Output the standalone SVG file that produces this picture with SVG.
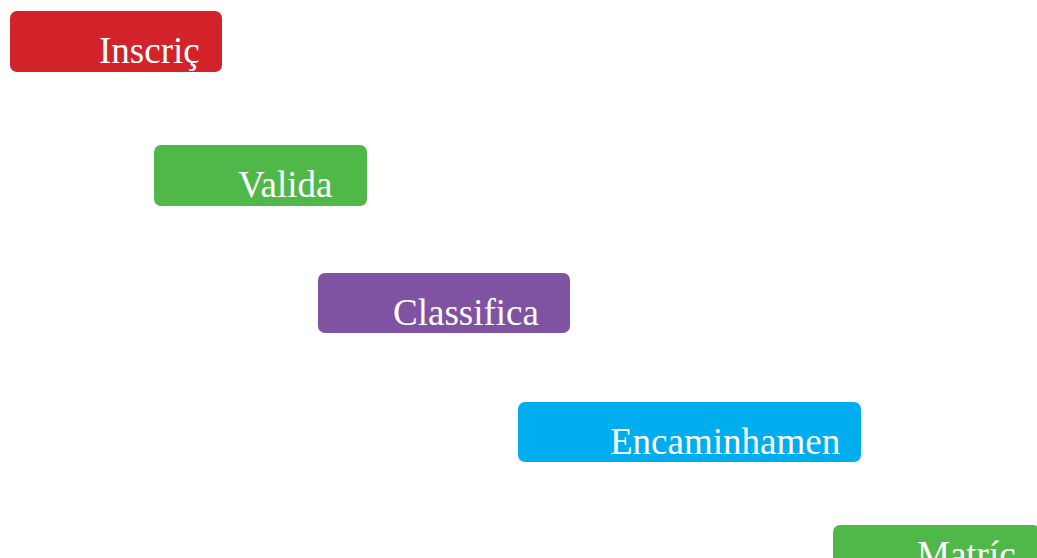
<svg xmlns="http://www.w3.org/2000/svg" width="1037" height="558" viewBox="0 0 1037 558">
<style>
.box{stroke:none}
.lbl{font-family:"Liberation Serif","Times New Roman",serif;font-size:37px;fill:#ffffff}
</style>
<rect width="1037" height="558" fill="#ffffff"/>
<g id="connectors"></g>
<g id="node-inscricao">
<rect class="box" x="10" y="11" width="212" height="61" rx="7" fill="#D2232A"/>
<text class="lbl" x="99" y="63">Inscriç</text>
</g>
<g id="node-validacao">
<rect class="box" x="154" y="145" width="213" height="61" rx="7" fill="#50B848"/>
<text class="lbl" x="238" y="197">Valida</text>
</g>
<g id="node-classificacao">
<rect class="box" x="318" y="273" width="252" height="60" rx="7" fill="#7F53A1"/>
<text class="lbl" x="393" y="325">Classifica</text>
</g>
<g id="node-encaminhamento">
<rect class="box" x="518" y="402" width="343" height="60" rx="7" fill="#00AEEF"/>
<text class="lbl" x="610" y="454">Encaminhamen</text>
</g>
<g id="node-matricula">
<rect class="box" x="833" y="525" width="207" height="60" rx="7" fill="#50B848"/>
<text class="lbl" x="917" y="567">Matríc</text>
</g>
</svg>
